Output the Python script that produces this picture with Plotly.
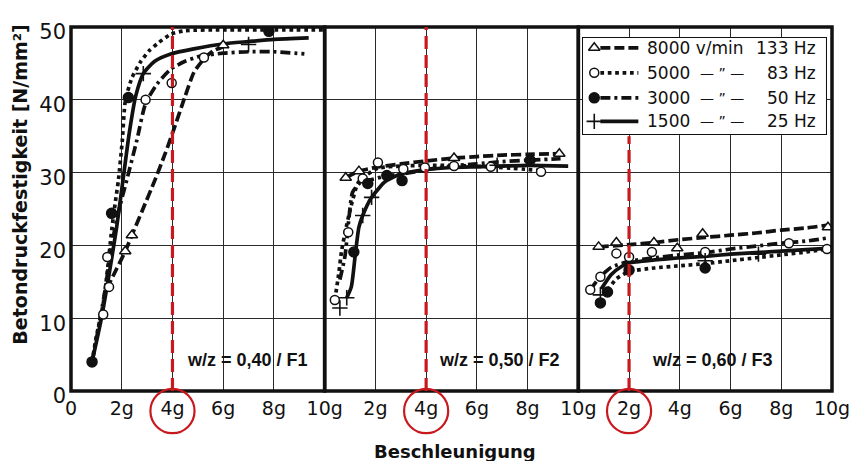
import plotly.graph_objects as go

# ---------------- data ----------------
# Panel 1: w/z = 0,40 / F1
p1_8000_cx = [1.4, 1.8, 2.14, 2.4, 2.8, 3.3, 3.7, 4.05, 4.5, 4.85, 5.24, 5.6, 6.0]
p1_8000_cy = [14.0, 16.8, 19.2, 21.4, 24.7, 28.9, 32.5, 35.9, 40.5, 43.8, 45.6, 46.7, 47.3]
p1_8000_mx = [2.14, 2.4, 6.0]
p1_8000_my = [19.2, 21.4, 47.5]
p1_5000_cx = [0.83, 1.0, 1.27, 1.45, 1.6, 1.75, 1.87, 2.02, 2.14, 2.4, 2.74, 3.1, 3.4, 3.93, 4.5, 6.0, 8.0, 10.0]
p1_5000_cy = [4.0, 7.5, 12.0, 17.0, 22.0, 26.0, 29.0, 34.3, 39.8, 43.0, 45.2, 46.8, 47.7, 49.0, 49.5, 49.6, 49.6, 49.6]
p1_5000_mx = [1.27, 1.5, 1.43, 2.94, 3.97, 5.24]
p1_5000_my = [10.5, 14.3, 18.4, 40.0, 42.3, 45.8]
p1_3000_cx = [0.83, 1.1, 1.35, 1.6, 1.9, 2.2, 2.6, 2.94, 3.4, 3.93, 4.5, 5.1, 6.0, 7.0, 8.0, 9.2]
p1_3000_cy = [4.0, 9.0, 14.0, 20.0, 25.0, 29.0, 34.5, 39.5, 42.2, 44.2, 45.3, 46.0, 46.4, 46.6, 46.6, 46.3]
p1_3000_mx = [0.83, 1.6, 2.26, 7.8]
p1_3000_my = [4.0, 24.4, 40.3, 49.4]
p1_1500_cx = [0.83, 1.2, 1.5, 1.8, 2.05, 2.3, 2.55, 2.85, 3.3, 3.93, 4.84, 6.03, 6.98, 8.0, 9.37]
p1_1500_cy = [4.0, 10.0, 16.0, 22.5, 29.0, 35.5, 40.5, 43.6, 45.3, 46.3, 47.0, 47.7, 48.0, 48.3, 48.5]
p1_1500_mx = [2.85, 7.0]
p1_1500_my = [43.6, 47.6]

# Panel 2: w/z = 0,50 / F2
p2_8000_cx = [0.83, 1.35, 2.0, 3.0, 4.0, 5.1, 6.0, 7.0, 8.0, 9.25]
p2_8000_cy = [29.3, 30.2, 30.7, 31.2, 31.6, 32.0, 32.2, 32.4, 32.5, 32.6]
p2_8000_mx = [0.83, 1.35, 5.1, 9.25]
p2_8000_my = [29.3, 30.2, 32.0, 32.6]
p2_5000_cx = [0.4, 0.55, 0.67, 0.85, 1.0, 1.3, 1.5, 2.1, 3.0, 4.0, 5.0, 6.5, 8.5]
p2_5000_cy = [12.5, 16.0, 19.3, 22.5, 24.8, 28.5, 29.3, 30.6, 30.9, 31.0, 31.0, 30.8, 30.3]
p2_5000_mx = [0.4, 0.93, 1.5, 2.1, 3.1, 3.95, 5.1, 6.55, 8.53]
p2_5000_my = [12.5, 21.8, 29.2, 31.4, 30.5, 30.7, 30.9, 30.8, 30.1]
p2_3000_cx = [0.6, 0.8, 0.95, 1.1, 1.4, 1.7, 2.5, 3.05, 4.0, 5.0, 6.0, 7.0, 8.0, 9.3]
p2_3000_cy = [15.3, 18.5, 23.5, 27.3, 28.6, 28.9, 29.6, 29.8, 30.4, 30.9, 31.2, 31.5, 31.7, 31.9]
p2_3000_mx = [1.15, 1.7, 2.45, 3.05, 8.1]
p2_3000_my = [19.1, 28.5, 29.6, 28.9, 31.7]
p2_1500_cx = [0.87, 1.05, 1.2, 1.35, 1.5, 1.85, 2.4, 3.0, 4.0, 5.0, 6.0, 7.0, 8.0, 9.6]
p2_1500_cy = [12.8, 14.3, 18.5, 22.5, 24.1, 26.6, 28.8, 29.8, 30.4, 30.7, 30.8, 30.9, 31.0, 30.9]
p2_1500_mx = [0.6, 0.87, 1.5, 1.85, 6.8]
p2_1500_my = [11.4, 12.8, 24.1, 26.6, 31.0]

# Panel 3: w/z = 0,60 / F3
p3_8000_cx = [0.8, 2.0, 3.0, 4.0, 5.0, 6.0, 7.0, 8.0, 9.0, 9.85]
p3_8000_cy = [19.8, 20.1, 20.4, 20.8, 21.1, 21.4, 21.7, 22.1, 22.4, 22.8]
p3_8000_mx = [0.8, 1.5, 2.98, 3.9, 4.9, 9.84]
p3_8000_my = [19.8, 20.4, 20.4, 19.6, 21.6, 22.5]
p3_5000_cx = [0.87, 1.15, 1.5, 2.0, 3.0, 4.0, 5.0, 6.0, 7.0, 8.0, 9.0, 9.8]
p3_5000_cy = [12.1, 13.8, 15.4, 16.4, 16.9, 17.2, 17.5, 17.9, 18.3, 18.7, 19.1, 19.5]
p3_5000_mx = [0.47, 0.87, 1.5, 2.0, 2.9, 5.0, 8.3, 9.8]
p3_5000_my = [13.9, 15.7, 18.9, 18.4, 19.1, 19.1, 20.3, 19.5]
p3_3000_cx = [0.47, 0.87, 1.3, 2.0, 3.0, 4.0, 5.0, 6.0, 7.0, 8.0, 9.0, 9.8]
p3_3000_cy = [13.9, 15.7, 17.0, 17.8, 18.3, 18.7, 19.0, 19.5, 19.9, 20.3, 20.6, 21.0]
p3_3000_mx = [0.87, 1.15, 2.0, 5.0]
p3_3000_my = [12.1, 13.6, 16.6, 16.9]
p3_1500_cx = [0.9, 1.3, 1.7, 2.0, 3.0, 4.0, 5.0, 6.0, 7.0, 8.0, 9.8]
p3_1500_cy = [14.0, 16.0, 17.1, 17.6, 18.0, 18.3, 18.5, 18.8, 19.0, 19.2, 19.6]
p3_1500_mx = [0.87, 5.0, 7.1]
p3_1500_my = [13.2, 17.9, 18.8]

panel_labels = ["w/z = 0,40 / F1", "w/z = 0,50 / F2", "w/z = 0,60 / F3"]
marked_accel = [4, 4, 2]
x_tickvals_first = [0, 2, 4, 6, 8, 10]
x_ticktext_first = ["0", "2g", "4g", "6g", "8g", "10g"]
x_tickvals_rest = [2, 4, 6, 8, 10]
x_ticktext_rest = ["2g", "4g", "6g", "8g", "10g"]
y_tickvals = [0, 10, 20, 30, 40, 50]

legend_rpm = ["8000 v/min", "5000", "3000", "1500"]
legend_mid = ["", "\u2014 \u201d \u2014", "\u2014 \u201d \u2014", "\u2014 \u201d \u2014"]
legend_hz = ["133 Hz", "83 Hz", "50 Hz", "25 Hz"]

# ---------------- styles ----------------
BLACK = "#111111"
RED = "#c8191e"
FONT = "DejaVu Sans"
LW = 3.7
styles = {
    "8000": dict(dash="10px,4px", symbol="triangle-up", fill="white", size=10),
    "5000": dict(dash="dot", symbol="circle", fill="white", size=9),
    "3000": dict(dash="10px,4px,3px,4px", symbol="circle", fill=BLACK, size=10),
    "1500": dict(dash="solid", symbol="cross-thin", fill=BLACK, size=11),
}

data = {
    ("x", "8000"): (p1_8000_cx, p1_8000_cy, p1_8000_mx, p1_8000_my),
    ("x", "5000"): (p1_5000_cx, p1_5000_cy, p1_5000_mx, p1_5000_my),
    ("x", "3000"): (p1_3000_cx, p1_3000_cy, p1_3000_mx, p1_3000_my),
    ("x", "1500"): (p1_1500_cx, p1_1500_cy, p1_1500_mx, p1_1500_my),
    ("x2", "8000"): (p2_8000_cx, p2_8000_cy, p2_8000_mx, p2_8000_my),
    ("x2", "5000"): (p2_5000_cx, p2_5000_cy, p2_5000_mx, p2_5000_my),
    ("x2", "3000"): (p2_3000_cx, p2_3000_cy, p2_3000_mx, p2_3000_my),
    ("x2", "1500"): (p2_1500_cx, p2_1500_cy, p2_1500_mx, p2_1500_my),
    ("x3", "8000"): (p3_8000_cx, p3_8000_cy, p3_8000_mx, p3_8000_my),
    ("x3", "5000"): (p3_5000_cx, p3_5000_cy, p3_5000_mx, p3_5000_my),
    ("x3", "3000"): (p3_3000_cx, p3_3000_cy, p3_3000_mx, p3_3000_my),
    ("x3", "1500"): (p3_1500_cx, p3_1500_cy, p3_1500_mx, p3_1500_my),
}


def marker_style(s):
    st = styles[s]
    if st["symbol"] == "cross-thin":
        return dict(symbol="cross-thin", size=st["size"], line=dict(color=BLACK, width=1.6))
    return dict(symbol=st["symbol"], size=st["size"], color=st["fill"],
                line=dict(color=BLACK, width=1.5))


fig = go.Figure()
for (xa, s), (cx, cy, mx, my) in data.items():
    fig.add_trace(go.Scatter(x=cx, y=cy, xaxis=xa, yaxis="y", mode="lines",
                             line=dict(color=BLACK, width=LW, dash=styles[s]["dash"],
                                       shape="spline", smoothing=0.6),
                             showlegend=False, hoverinfo="skip"))
for (xa, s), (cx, cy, mx, my) in data.items():
    fig.add_trace(go.Scatter(x=mx, y=my, xaxis=xa, yaxis="y", mode="markers",
                             marker=marker_style(s), showlegend=False, hoverinfo="skip"))

# ---------------- custom legend box (on a helper axis pair) ----------------
leg_row_y = [0.89, 0.635, 0.38, 0.14]
fig.add_trace(go.Scatter(x=[0, 1, 1, 0, 0], y=[0, 0, 1, 1, 0], xaxis="x4", yaxis="y4",
                         mode="lines", fill="toself", fillcolor="white",
                         line=dict(color=BLACK, width=2), showlegend=False, hoverinfo="skip"))
for i, s in enumerate(styles):
    yy = leg_row_y[i]
    fig.add_trace(go.Scatter(x=[0.075, 0.23], y=[yy, yy], xaxis="x4", yaxis="y4", mode="lines",
                             line=dict(color=BLACK, width=LW, dash=styles[s]["dash"]),
                             showlegend=False, hoverinfo="skip"))
    fig.add_trace(go.Scatter(x=[0.05], y=[yy], xaxis="x4", yaxis="y4", mode="markers",
                             marker=marker_style(s), showlegend=False, hoverinfo="skip"))

annotations = []
for i in range(4):
    yy = leg_row_y[i]
    annotations.append(dict(x=0.258, y=yy, xref="x4", yref="y4", text=legend_rpm[i],
                            showarrow=False, xanchor="left", yanchor="middle",
                            font=dict(family=FONT, size=17, color=BLACK)))
    if legend_mid[i]:
        annotations.append(dict(x=0.57, y=yy, xref="x4", yref="y4", text=legend_mid[i],
                                showarrow=False, xanchor="center", yanchor="middle",
                                font=dict(family=FONT, size=14, color=BLACK)))
    annotations.append(dict(x=0.965, y=yy, xref="x4", yref="y4", text=legend_hz[i],
                            showarrow=False, xanchor="right", yanchor="middle",
                            font=dict(family=FONT, size=17, color=BLACK)))

# panel labels
label_pos = [("x", 6.95), ("x2", 6.9), ("x3", 5.3)]
for (xa, xv), txt in zip(label_pos, panel_labels):
    annotations.append(dict(x=xv, y=4.3, xref=xa, yref="y", text="<b>" + txt + "</b>",
                            showarrow=False, xanchor="center", yanchor="middle",
                            font=dict(family="Liberation Sans", size=18, color=BLACK)))

# axis titles
annotations.append(dict(x=-0.067, y=0.567, xref="paper", yref="paper",
                        text="<b>Betondruckfestigkeit [N/mm²]</b>", textangle=-90,
                        showarrow=False, xanchor="center", yanchor="middle",
                        font=dict(family=FONT, size=19, color=BLACK)))
annotations.append(dict(x=0.5046, y=-0.165, xref="paper", yref="paper",
                        text="<b>Beschleunigung</b>", showarrow=False,
                        xanchor="center", yanchor="middle",
                        font=dict(family=FONT, size=18, color=BLACK)))

# ---------------- shapes: panel borders, red markers ----------------
shapes = []
for xa in ["x", "x2", "x3"]:
    shapes.append(dict(type="rect", xref=xa + " domain", yref="y domain", x0=0, x1=1, y0=0, y1=1,
                       line=dict(color=BLACK, width=3.5), layer="above"))
red_top = [50, 50, 35]
circ_r = 0.87  # in g units (about 22 px)
for xa, gx, yt in zip(["x", "x2", "x3"], marked_accel, red_top):
    shapes.append(dict(type="line", xref=xa, yref="y", x0=gx, x1=gx, y0=0, y1=yt,
                       line=dict(color=RED, width=3.2, dash="13px,6px"), layer="above"))
    shapes.append(dict(type="circle", xref=xa, yref="paper", x0=gx - circ_r, x1=gx + circ_r,
                       y0=-0.116, y1=0.006, line=dict(color=RED, width=2.2)))

axis_common = dict(range=[0, 10], showgrid=True, gridcolor="#2a2a2a", gridwidth=1,
                   zeroline=False, showline=False, ticks="", anchor="y", automargin=False,
                   tickfont=dict(family=FONT, size=19, color=BLACK), ticklabelstandoff=4)

fig.update_layout(
    width=851, height=461,
    margin=dict(l=71, r=19, t=27, b=70, autoexpand=False),
    paper_bgcolor="white", plot_bgcolor="white",
    xaxis=dict(domain=[0, 1 / 3], tickvals=x_tickvals_first, ticktext=x_ticktext_first, **axis_common),
    xaxis2=dict(domain=[1 / 3, 2 / 3], tickvals=x_tickvals_rest, ticktext=x_ticktext_rest, **axis_common),
    xaxis3=dict(domain=[2 / 3, 1], tickvals=x_tickvals_rest, ticktext=x_ticktext_rest, **axis_common),
    yaxis=dict(range=[0, 50], tickvals=y_tickvals, showgrid=True, gridcolor="#2a2a2a", gridwidth=1,
               zeroline=False, showline=False, ticks="", anchor="x", automargin=False,
               tickfont=dict(family=FONT, size=21, color=BLACK), ticklabelshift=5,
               ticklabelstandoff=4),
    xaxis4=dict(domain=[0.6715, 0.9934], range=[0, 1], visible=False, anchor="y4", fixedrange=True),
    yaxis4=dict(domain=[0.703, 0.9725], range=[0, 1], visible=False, anchor="x4", fixedrange=True),
    shapes=shapes,
    annotations=annotations,
    showlegend=False,
)

fig.write_html("out.html", config={"displayModeBar": False},
               post_script="document.body.style.margin='0';document.body.style.overflow='hidden';")
